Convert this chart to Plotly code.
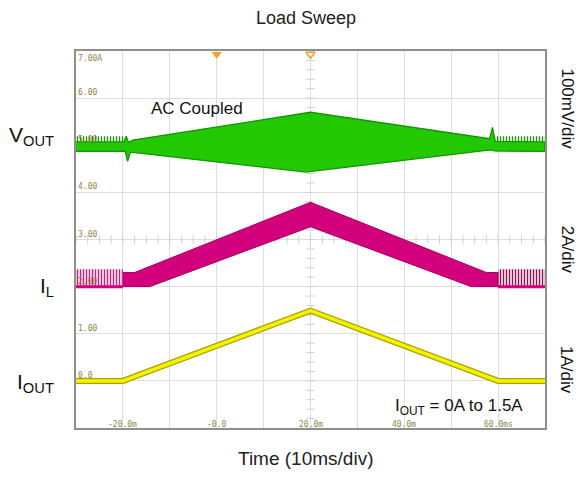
import plotly.graph_objects as go

# ---------------- data (time in ms, amplitude in screen divisions) ----------------
# Output current: ramp 0 A -> 1.5 A -> 0 A (1 A/div, ground at 0 div)
iout_t = [-30, -20, 20, 60, 70]
iout_v = [0.0, 0.0, 1.49, 0.0, 0.0]

# Inductor current (ground at 2 div): pulse-skipping at light load, ripple band under load
il_level = 2.0
il_pulse_top = 2.37
il_pulse_left_t = [-30, -20]
il_pulse_right_t = [60, 70]
il_upper_t = [-20.0, -17.5, 20.0, 57.5, 60.0]
il_upper_v = [2.30, 2.30, 3.79, 2.30, 2.30]
il_lower_t = [-20.0, -14.3, 20.0, 54.3, 60.0]
il_lower_v = [2.0, 2.0, 3.27, 2.0, 2.0]

# Output voltage ripple envelope, AC coupled (ground at 5 div)
vout_upper_t = [-30, -19.8, -19.3, -18.8, -17.9, 20.0, 58.2, 58.8, 59.4, 70]
vout_upper_v = [5.07, 5.07, 5.19, 5.06, 5.11, 5.70, 5.14, 5.38, 5.08, 5.07]
vout_lower_t = [-30, -19.5, -19.0, -18.4, -17.9, 19.0, 58.3, 59.2, 70]
vout_lower_v = [4.87, 4.87, 4.66, 4.85, 4.85, 4.43, 4.90, 4.88, 4.87]
vout_spike_top = 5.19
vout_noise_left_t = [-30, -19.8]
vout_noise_right_t = [59.4, 70]

# graticule readouts
grid_labels = ["7.00A", "6.00", "5.00", "4.00", "3.00", "2.00", "1.00", "0.0"]
grid_levels = [7, 6, 5, 4, 3, 2, 1, 0]
time_labels = ["-20.0m", "-0.0", "20.0m", "40.0m", "60.0ms"]
time_pos = [-20, 0, 20, 40, 60]

# channel ground markers (level in div)
ch_names = ["2", "4"]
ch_levels = [5.0, 2.0]
ch_colors = ["#3cdc1e", "#f0188c"]
trig_level = 0.72

X_RANGE = [-30, 70]
Y_RANGE = [-1, 7]

GREEN, GREEN_EDGE, GREEN_DARK = "#22c800", "#139400", "#1a9a00"
MAG, MAG_EDGE = "#d2007c", "#a3005c"
YEL, YEL_EDGE = "#f4f200", "#a9a300"
OLIVE = "#8c8440"
FONT = "Liberation Sans, Arial, sans-serif"
MONO = "DejaVu Sans Mono, monospace"

fig = go.Figure()

# centre graticule minor ticks
vt = [Y_RANGE[0] + 0.2 * k for k in range(41)]
fig.add_trace(go.Scatter(x=[20] * len(vt), y=vt, mode="markers",
                         marker=dict(symbol="line-ew", size=6, line=dict(color="#cfcfcf", width=1)),
                         hoverinfo="skip", showlegend=False))
ht = [X_RANGE[0] + 2.5 * k for k in range(41)]
fig.add_trace(go.Scatter(x=ht, y=[3] * len(ht), mode="markers",
                         marker=dict(symbol="line-ns", size=6, line=dict(color="#cfcfcf", width=1)),
                         hoverinfo="skip", showlegend=False))

# ---- VOUT ----
for nt in (vout_noise_left_t, vout_noise_right_t):
    fig.add_trace(go.Scatter(
        x=[nt[0], nt[1], nt[1], nt[0], nt[0]],
        y=[vout_lower_v[0], vout_lower_v[0], vout_spike_top, vout_spike_top, vout_lower_v[0]],
        fill="toself", mode="none", fillcolor="rgba(0,0,0,0)",
        fillpattern=dict(shape="|", fgcolor=GREEN_DARK, bgcolor="rgba(0,0,0,0)",
                         size=3, solidity=0.45, fillmode="replace"),
        hoverinfo="skip", showlegend=False))
fig.add_trace(go.Scatter(
    x=vout_upper_t + vout_lower_t[::-1], y=vout_upper_v + vout_lower_v[::-1],
    fill="toself", fillcolor=GREEN, mode="lines", line=dict(color=GREEN_EDGE, width=1.3),
    hoverinfo="skip", showlegend=False))

# ---- IL ----
for pt, col in ((il_pulse_left_t, "#c8207e"), (il_pulse_right_t, "#8c1456")):
    fig.add_trace(go.Scatter(
        x=[pt[0], pt[1], pt[1], pt[0], pt[0]],
        y=[il_level, il_level, il_pulse_top, il_pulse_top, il_level],
        fill="toself", mode="none", fillcolor="rgba(0,0,0,0)",
        fillpattern=dict(shape="|", fgcolor=col, bgcolor="rgba(0,0,0,0)",
                         size=3, solidity=0.5, fillmode="replace"),
        hoverinfo="skip", showlegend=False))
    fig.add_trace(go.Scatter(x=pt, y=[il_level, il_level], mode="lines",
                             line=dict(color=MAG, width=3), hoverinfo="skip", showlegend=False))
fig.add_trace(go.Scatter(
    x=il_upper_t + il_lower_t[::-1], y=il_upper_v + il_lower_v[::-1],
    fill="toself", fillcolor=MAG, mode="lines", line=dict(color=MAG_EDGE, width=1),
    hoverinfo="skip", showlegend=False))

# ---- IOUT ----
fig.add_trace(go.Scatter(x=iout_t, y=iout_v, mode="lines", line=dict(color=YEL_EDGE, width=6),
                         hoverinfo="skip", showlegend=False))
fig.add_trace(go.Scatter(x=iout_t, y=iout_v, mode="lines", line=dict(color=YEL, width=3.5),
                         hoverinfo="skip", showlegend=False))

# ---- scope markers ----
fig.add_trace(go.Scatter(x=[0], y=[6.93], mode="markers", cliponaxis=False,
                         marker=dict(symbol="triangle-down", size=9, color="#f0a030"),
                         hoverinfo="skip", showlegend=False))
fig.add_trace(go.Scatter(x=[20], y=[6.93], mode="markers", cliponaxis=False,
                         marker=dict(symbol="triangle-down-open", size=8, color="#f0a030",
                                     line=dict(width=1.5)),
                         hoverinfo="skip", showlegend=False))
fig.add_trace(go.Scatter(x=[-31.2] * 2 + [-31.2], y=ch_levels + [trig_level], mode="markers",
                         cliponaxis=False,
                         marker=dict(symbol="triangle-right", size=7,
                                     color=ch_colors + ["#f0ec10"]),
                         hoverinfo="skip", showlegend=False))

ann = []
for name, lvl, col in zip(ch_names, ch_levels, ch_colors):
    ann.append(dict(x=-32.8, y=lvl, xref="x", yref="y", text=name, showarrow=False,
                    font=dict(family=FONT, size=11, color=col), xanchor="right", yanchor="middle"))
ann.append(dict(x=-31.0, y=trig_level + 0.2, xref="x", yref="y", text="T", showarrow=False,
                font=dict(family=FONT, size=10, color="#f0ec10"), xanchor="center", yanchor="middle"))
ann.append(dict(x=-32.0, y=0, xref="x", yref="y", text="1", showarrow=False,
                font=dict(family=FONT, size=10, color="#f8f4a0"), bgcolor="#b8b000",
                bordercolor="#6e6a00", borderwidth=1, borderpad=2,
                xanchor="center", yanchor="middle"))

# graticule readouts
for lab, lvl in zip(grid_labels, grid_levels):
    ann.append(dict(x=X_RANGE[0], y=lvl, xref="x", yref="y", text=lab, showarrow=False,
                    xanchor="left", yanchor="top" if lvl == 7 else "bottom", yshift=-1,
                    font=dict(family=MONO, size=8, color=OLIVE)))
for lab, t in zip(time_labels, time_pos):
    ann.append(dict(x=t, y=Y_RANGE[0], xref="x", yref="y", text=lab, showarrow=False,
                    xanchor="center", yanchor="bottom", yshift=-3,
                    font=dict(family=MONO, size=8, color=OLIVE)))

# text labels
ann += [
    dict(x=0.49, y=1.0, xref="paper", yref="paper", yshift=33, text="Load Sweep", showarrow=False,
         font=dict(family=FONT, size=18, color="#222"), yanchor="middle"),
    dict(x=0.49, y=-0.08, xref="paper", yref="paper", text="Time (10ms/div)", showarrow=False,
         font=dict(family=FONT, size=19, color="#222"), yanchor="middle"),
    dict(x=-14.5, y=5.78, xref="x", yref="y", text="AC Coupled", showarrow=False,
         font=dict(family=FONT, size=17, color="#111"), xanchor="left", yanchor="middle"),
    dict(x=37.5, y=-0.55, xref="x", yref="y", text="I<sub>OUT</sub> = 0A to 1.5A", showarrow=False,
         font=dict(family=FONT, size=17, color="#111"), xanchor="left", yanchor="middle"),
    dict(x=-0.043, y=5.2, xref="paper", yref="y", text="V<sub>OUT</sub>", showarrow=False,
         font=dict(family=FONT, size=21, color="#111"), xanchor="right", yanchor="middle"),
    dict(x=-0.043, y=2.0, xref="paper", yref="y", text="I<sub>L</sub>", showarrow=False,
         font=dict(family=FONT, size=21, color="#111"), xanchor="right", yanchor="middle"),
    dict(x=-0.043, y=-0.05, xref="paper", yref="y", text="I<sub>OUT</sub>", showarrow=False,
         font=dict(family=FONT, size=21, color="#111"), xanchor="right", yanchor="middle"),
    dict(x=1.047, y=5.78, xref="paper", yref="y", text="100mV/div", showarrow=False, textangle=90,
         font=dict(family=FONT, size=17, color="#111"), xanchor="center", yanchor="middle"),
    dict(x=1.047, y=2.78, xref="paper", yref="y", text="2A/div", showarrow=False, textangle=90,
         font=dict(family=FONT, size=17, color="#111"), xanchor="center", yanchor="middle"),
    dict(x=1.047, y=0.23, xref="paper", yref="y", text="1A/div", showarrow=False, textangle=90,
         font=dict(family=FONT, size=17, color="#111"), xanchor="center", yanchor="middle"),
]

fig.update_layout(
    width=587, height=479,
    margin=dict(l=76, r=42, t=51, b=51),
    paper_bgcolor="white", plot_bgcolor="white",
    showlegend=False,
    annotations=ann,
    xaxis=dict(range=X_RANGE, tick0=0, dtick=10, showgrid=True, gridcolor="#dddddd", gridwidth=1,
               zeroline=False, showticklabels=False, ticks="",
               showline=True, mirror=True, linecolor="#8e8e8e", linewidth=2),
    yaxis=dict(range=Y_RANGE, tick0=0, dtick=1, showgrid=True, gridcolor="#dddddd", gridwidth=1,
               zeroline=False, showticklabels=False, ticks="",
               showline=True, mirror=True, linecolor="#8e8e8e", linewidth=2),
)

fig.write_html("out.html")
